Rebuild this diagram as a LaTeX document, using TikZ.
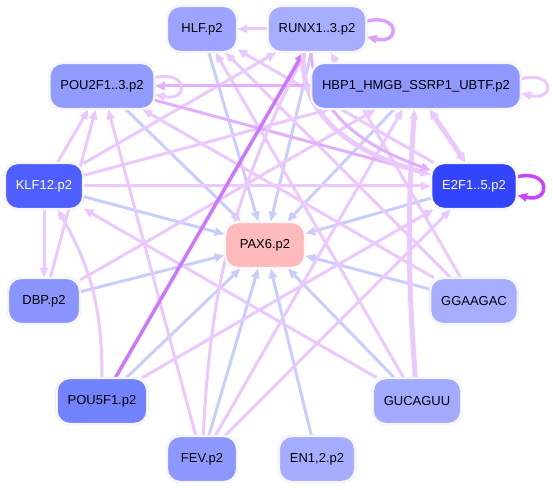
\documentclass[tikz,border=0pt]{standalone}
\usepackage{fontspec}
\setmainfont{Liberation Sans}
\usetikzlibrary{arrows.meta, positioning}

\definecolor{hlfcol}{HTML}{9CA4FF}
\definecolor{runxcol}{HTML}{A8AEFF}
\definecolor{poutwocol}{HTML}{929BFF}
\definecolor{hbpcol}{HTML}{8F98FF}
\definecolor{klfcol}{HTML}{4F5FFF}
\definecolor{efcol}{HTML}{3344FF}
\definecolor{paxcol}{HTML}{FFBBBB}
\definecolor{dbpcol}{HTML}{8B95FF}
\definecolor{ggacol}{HTML}{A8AEFF}
\definecolor{poufivecol}{HTML}{7382FF}
\definecolor{guccol}{HTML}{A3ABFF}
\definecolor{fevcol}{HTML}{8E97FF}
\definecolor{encol}{HTML}{A6ADFF}
\definecolor{edgeblue}{HTML}{C8CEFF}
\definecolor{edgepink}{HTML}{EBC8FF}
\definecolor{edgemid}{HTML}{E2B0FF}
\definecolor{edgestrong}{HTML}{CC77FF}
\definecolor{edgeloop}{HTML}{C844FF}

\pgfdeclarelayer{back}
\pgfsetlayers{back,main}

\tikzset{
  tf/.style={draw=blue!10, double=white, double distance=1.2pt, line width=0.6pt,
    rounded corners=13pt, minimum height=46pt, minimum width=70pt, inner xsep=11pt,
    font=\fontsize{13}{15}\selectfont},
  arrowtip/.style={-{Triangle[length=10pt,width=8pt]}},
  bl/.style={draw=edgeblue, line width=3pt, arrowtip},
  pk/.style={draw=edgepink, line width=3pt, arrowtip},
  pkmid/.style={draw=edgemid, line width=3pt, arrowtip},
  pkthick/.style={draw=edgepink, line width=5pt, arrowtip},
}

\begin{document}
\begin{tikzpicture}[x=1pt, y=1pt]
  \useasboundingbox (0,0) rectangle (553,489);

  % nodes
  \node[tf, fill=hlfcol] (hlf) at (202,460) {HLF.p2};
  \node[tf, fill=runxcol] (runx) at (317,460) {RUNX1..3.p2};
  \node[tf, fill=poutwocol] (pou2f) at (102,403) {POU2F1..3.p2};
  \node[tf, fill=hbpcol] (hbp) at (416,403) {HBP1\_HMGB\_SSRP1\_UBTF.p2};
  \node[tf, fill=klfcol, text=white, minimum width=76pt] (klf) at (44,303) {KLF12.p2};
  \node[tf, fill=efcol, text=white] (e2f) at (474,303) {E2F1..5.p2};
  \node[tf, fill=paxcol, draw=red!8, minimum width=80pt] (pax6) at (265,244) {PAX6.p2};
  \node[tf, fill=dbpcol, minimum width=72pt] (dbp) at (44,188) {DBP.p2};
  \node[tf, fill=ggacol] (gga) at (474,188) {GGAAGAC};
  \node[tf, fill=poufivecol] (pou5) at (102,88) {POU5F1.p2};
  \node[tf, fill=guccol] (guc) at (417,88) {GUCAGUU};
  \node[tf, fill=fevcol] (fev) at (202,30) {FEV.p2};
  \node[tf, fill=encol] (en) at (317,30) {EN1,2.p2};

  \begin{pgfonlayer}{back}
    % every factor towards the target
    \foreach \src in {hlf,runx,pou2f,hbp,klf,e2f,dbp,gga,pou5,guc,fev,en}
      \draw[bl] (\src) -- (pax6);

    % links between the factors
    \foreach \a/\b in {runx/hlf, klf/pou2f, klf/runx, klf/hbp, klf/e2f, klf/dbp,
        dbp/pou2f, dbp/hbp, fev/pou2f, fev/hbp, fev/e2f, pou5/e2f, guc/klf,
        guc/hlf, gga/pou2f, gga/runx, gga/hlf, e2f/hlf}
      \draw[pk] (\a) -- (\b);
    \draw[pkmid] (hbp) -- (pou2f);
    \draw[pkmid] (pou2f) -- (e2f);
    \draw[pk] (fev) to[bend left=12] (runx);
    \draw[pk] (pou5) to[bend right=15] (klf);
    \draw[draw=edgestrong, line width=3.5pt, arrowtip] (pou5) -- (runx);
    \draw[pkthick] (guc) to[bend left=4] (hbp);
    \draw[pkthick, {Triangle[length=10pt,width=9pt]}-{Triangle[length=10pt,width=9pt]}] (hbp.-60) -- (e2f.110);
    \draw[pkthick] (runx.-120) to[out=-95,in=165] (e2f);
    \draw[pkmid] (runx.-105) to[out=-85,in=160] (e2f);

    % self loops
    \draw[pkmid, draw=edgemid!70!edgestrong, line width=3.5pt] (runx.9) .. controls +(34,8) and +(34,-8) .. (runx.-9);
    \draw[pk] (pou2f.9) .. controls +(34,8) and +(34,-8) .. (pou2f.-9);
    \draw[pk] (hbp.4) .. controls +(34,8) and +(34,-8) .. (hbp.-4);
    \draw[draw=edgeloop, line width=3.5pt, arrowtip] (e2f.12) .. controls +(34,8) and +(34,-8) .. (e2f.-12);
  \end{pgfonlayer}
\end{tikzpicture}
\end{document}
